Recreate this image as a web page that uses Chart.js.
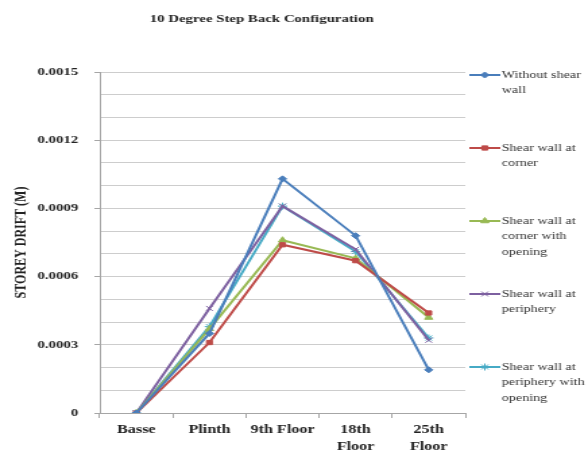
<!DOCTYPE html>
<html>
<head>
<meta charset="utf-8">
<title>10 Degree Step Back Configuration</title>
<script src="https://cdn.jsdelivr.net/npm/chart.js@4/dist/chart.umd.min.js"></script>
<style>
  html, body { margin: 0; padding: 0; background: #fff; overflow: hidden; }
  /* the drawing is laid out on a narrower canvas and widened to 588px */
  #wrap { position: absolute; left: 0; top: 0; width: 436px; height: 463px;
          transform: scaleX(1.3486); transform-origin: 0 0; }
  canvas { display: block; }
</style>
</head>
<body>
<div id="wrap"><canvas id="drift" width="436" height="463"></canvas></div>
<script>
// ---- data ----
const categories = [['Basse'], ['Plinth'], ['9th Floor'], ['18th', 'Floor'], ['25th', 'Floor']];
const seriesNames = [
  'Without shear wall',
  'Shear wall at corner',
  'Shear wall at corner with opening',
  'Shear wall at periphery',
  'Shear wall at periphery with opening'
];
const withoutShearWall       = [0, 0.00035, 0.00103, 0.00078, 0.00019];
const wallAtCorner           = [0, 0.00031, 0.00074, 0.00067, 0.00044];
const wallAtCornerOpening    = [0, 0.00037, 0.00076, 0.00068, 0.00042];
const wallAtPeriphery        = [0, 0.00046, 0.00091, 0.00072, 0.00032];
const wallAtPeripheryOpening = [0, 0.00038, 0.00091, 0.00071, 0.00033];
const yTickLabels = ['0', '0.0003', '0.0006', '0.0009', '0.0012', '0.0015'];

const serif = '"Liberation Serif", "Times New Roman", serif';
const textColor = '#222';
const axisGray = '#A6A6A6';

const styles = [
  { color: '#4A7EBB', point: 'rectRot',  radius: 3 },
  { color: '#BE4B48', point: 'rect',     radius: 3 },
  { color: '#98B954', point: 'triangle', radius: 3.5 },
  { color: '#7D60A0', point: 'crossRot', radius: 3.5 },
  { color: '#46AAC5', point: 'star',     radius: 3.5 }
];
const seriesValues = [withoutShearWall, wallAtCorner, wallAtCornerOpening, wallAtPeriphery, wallAtPeripheryOpening];

const datasets = seriesValues.map((vals, i) => ({
  label: seriesNames[i],
  data: vals,
  borderColor: styles[i].color,
  backgroundColor: styles[i].color,
  borderWidth: 2,
  pointStyle: styles[i].point,
  pointRadius: styles[i].radius,
  pointBorderWidth: 1,
  pointBorderColor: styles[i].color,
  pointBackgroundColor: styles[i].color,
  tension: 0,
  fill: false
}));

// heading over the plot
const heading = {
  id: 'heading',
  afterDraw(chart) {
    const ctx = chart.ctx;
    ctx.save();
    ctx.font = 'bold 11px ' + serif;
    ctx.fillStyle = textColor;
    ctx.textAlign = 'center';
    ctx.textBaseline = 'middle';
    ctx.fillText('10 Degree Step Back Configuration', 194, 19);
    ctx.restore();
  }
};

// wrapped legend in the right margin
const sideLegend = {
  id: 'sideLegend',
  afterDraw(chart) {
    const ctx = chart.ctx;
    const x0 = 348, x1 = 371, textX = 372, maxW = 66, lineH = 15.5;
    ctx.save();
    ctx.font = '10.5px ' + serif;
    chart.data.datasets.forEach((ds, i) => {
      const y = 75 + i * 73;
      ctx.strokeStyle = ds.borderColor;
      ctx.lineWidth = 2;
      ctx.beginPath();
      ctx.moveTo(x0, y);
      ctx.lineTo(x1, y);
      ctx.stroke();
      ctx.fillStyle = ds.pointBackgroundColor;
      ctx.strokeStyle = ds.pointBorderColor;
      ctx.lineWidth = 1;
      Chart.helpers.drawPoint(ctx, { pointStyle: ds.pointStyle, radius: ds.pointRadius, rotation: 0, borderWidth: 1 }, (x0 + x1) / 2, y);
      // word wrap
      const words = ds.label.split(' ');
      const lines = [];
      let cur = '';
      words.forEach(w => {
        const t = cur ? cur + ' ' + w : w;
        if (ctx.measureText(t).width > maxW && cur) { lines.push(cur); cur = w; }
        else cur = t;
      });
      if (cur) lines.push(cur);
      ctx.fillStyle = '#333';
      ctx.textAlign = 'left';
      ctx.textBaseline = 'middle';
      lines.forEach((ln, k) => ctx.fillText(ln, textX, y + k * lineH));
    });
    ctx.restore();
  }
};

new Chart(document.getElementById('drift'), {
  type: 'line',
  data: { labels: categories, datasets },
  options: {
    responsive: false,
    animation: false,
    devicePixelRatio: 1,
    layout: { padding: { left: 0, right: 91, top: 72, bottom: 0 } },
    plugins: {
      legend: { display: false },
      title: { display: false },
      tooltip: { enabled: false }
    },
    scales: {
      x: {
        type: 'category',
        offset: true,
        grid: { offset: true, drawOnChartArea: false, drawTicks: true, tickLength: 5, color: axisGray },
        border: { display: true, color: axisGray, width: 1 },
        ticks: {
          color: textColor,
          padding: 4,
          maxRotation: 0,
          autoSkip: false,
          font: { family: serif, size: 12, weight: 'bold', lineHeight: 1.4 }
        },
        afterFit(scale) { scale.height = 50; }
      },
      y: {
        min: 0,
        max: 0.0015,
        grid: {
          color: '#CDCDCD',
          lineWidth: 1,
          tickLength: 4,
          tickColor: ctx => (ctx.index % 3 === 0 ? axisGray : 'rgba(0,0,0,0)')
        },
        border: { display: true, color: axisGray, width: 1 },
        ticks: {
          stepSize: 0.0001,
          autoSkip: false,
          padding: 12,
          color: textColor,
          font: { family: serif, size: 11, weight: 'bold' },
          callback: (value, index) => (index % 3 === 0 ? yTickLabels[index / 3] : '')
        },
        title: {
          display: true,
          text: 'STOREY DRIFT (M)',
          color: textColor,
          padding: { top: 9, bottom: 0 },
          font: { family: serif, size: 12, weight: 'bold' }
        },
        afterFit(scale) { scale.width = 74; }
      }
    }
  },
  plugins: [heading, sideLegend]
});
</script>
</body>
</html>
